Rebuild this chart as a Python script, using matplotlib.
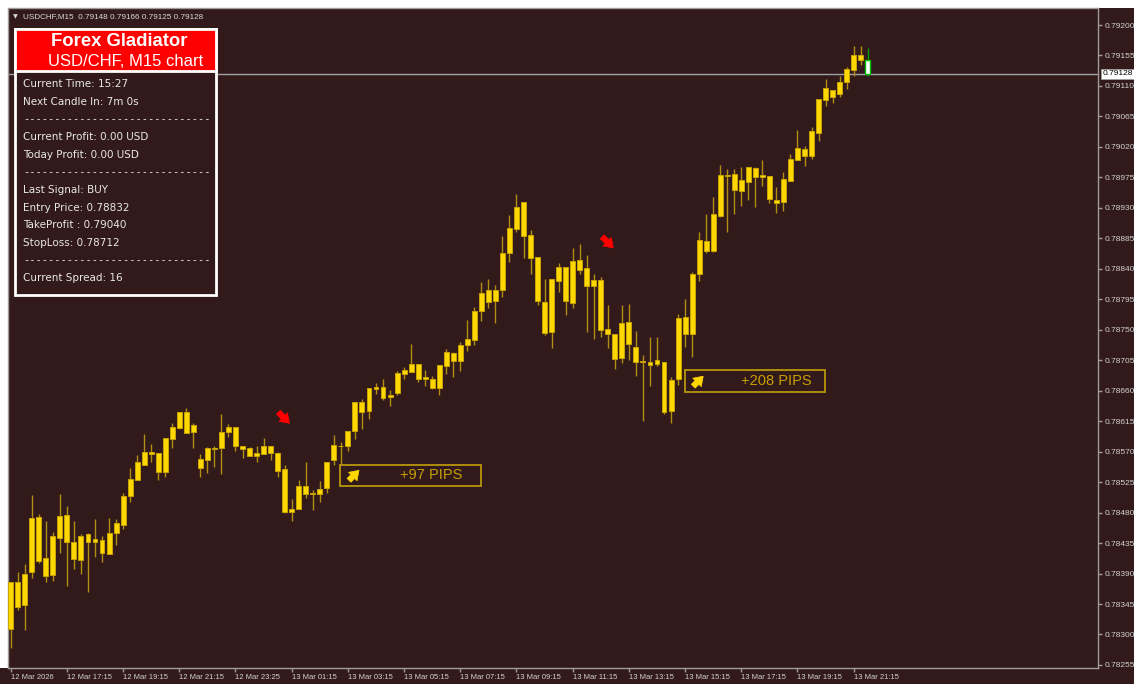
import numpy as np
import matplotlib.pyplot as plt
from matplotlib.patches import Rectangle

W, H = 1134, 684
BG = '#321a1b'
FRAME = '#a09a9a'
BODY = '#ffd700'
BODY_EDGE = '#c8a400'
WICK = '#b08f10'

# USDCHF M15 candles, prices in points (1e-5)
opens = [78308, 78377, 78343, 78393, 78474, 78413, 78388, 78443, 78477, 78437,
         78410, 78448, 78437, 78440, 78419, 78450, 78462, 78505, 78528, 78551,
         78570, 78568, 78540, 78589, 78605, 78629, 78599, 78559, 78558, 78576,
         78576, 78599, 78607, 78578, 78576, 78563, 78567, 78579, 78568, 78544,
         78481, 78486, 78520, 78507, 78507, 78516, 78558, 78579, 78579, 78601,
         78643, 78630, 78665, 78649, 78653, 78656, 78685, 78687, 78699, 78678,
         78678, 78664, 78697, 78716, 78704, 78727, 78735, 78777, 78808, 78792,
         78809, 78863, 78899, 78938, 78890, 78857, 78791, 78746, 78822, 78843,
         78789, 78853, 78841, 78815, 78823, 78751, 78743, 78709, 78761, 78724,
         78702, 78703, 78699, 78703, 78630, 78678, 78769, 78744, 78833, 78881,
         78866, 78918, 78979, 78980, 78955, 78968, 78989, 78975, 78977, 78942,
         78939, 78970, 79001, 79017, 79006, 79041, 79089, 79104, 79098, 79116,
         79134, 79155, 79148]
highs = [78378, 78393, 78404, 78506, 78478, 78467, 78452, 78507, 78490, 78468,
         78448, 78450, 78471, 78446, 78472, 78471, 78509, 78546, 78565, 78596,
         78581, 78568, 78590, 78612, 78629, 78635, 78612, 78566, 78577, 78579,
         78625, 78611, 78607, 78578, 78577, 78579, 78590, 78579, 78570, 78551,
         78500, 78528, 78555, 78514, 78527, 78555, 78594, 78584, 78600, 78644,
         78648, 78664, 78672, 78678, 78661, 78689, 78695, 78729, 78700, 78691,
         78681, 78698, 78721, 78717, 78732, 78764, 78783, 78821, 78825, 78816,
         78888, 78920, 78950, 78939, 78897, 78857, 78825, 78825, 78848, 78843,
         78870, 78877, 78861, 78832, 78828, 78786, 78743, 78786, 78788, 78748,
         78712, 78740, 78740, 78703, 78680, 78774, 78796, 78835, 78894, 78921,
         78946, 78994, 78988, 78988, 78990, 78990, 78991, 79001, 78977, 78961,
         78983, 79010, 79045, 79021, 79049, 79091, 79121, 79104, 79125, 79138,
         79169, 79169, 79166]
lows = [78280, 78336, 78307, 78383, 78406, 78377, 78379, 78420, 78372, 78397,
        78390, 78363, 78414, 78407, 78419, 78432, 78456, 78495, 78528, 78551,
        78554, 78528, 78532, 78576, 78603, 78598, 78576, 78532, 78539, 78548,
        78537, 78591, 78571, 78561, 78563, 78554, 78566, 78558, 78533, 78480,
        78468, 78485, 78502, 78484, 78496, 78509, 78551, 78551, 78571, 78589,
        78604, 78618, 78655, 78647, 78637, 78654, 78677, 78687, 78673, 78667,
        78662, 78653, 78685, 78680, 78689, 78719, 78728, 78763, 78782, 78760,
        78798, 78850, 78895, 78856, 78832, 78786, 78742, 78723, 78806, 78772,
        78782, 78832, 78747, 78737, 78740, 78723, 78692, 78701, 78705, 78682,
        78615, 78667, 78697, 78626, 78612, 78668, 78725, 78710, 78822, 78864,
        78865, 78917, 78894, 78921, 78933, 78941, 78932, 78963, 78937, 78923,
        78925, 78970, 79001, 78992, 79002, 79029, 79080, 79085, 79093, 79106,
        79124, 79141, 79125]
closes = [78377, 78341, 78390, 78472, 78409, 78387, 78446, 78475, 78436, 78411,
          78446, 78437, 78441, 78420, 78450, 78464, 78505, 78529, 78554, 78570,
          78566, 78540, 78590, 78607, 78629, 78598, 78609, 78546, 78576, 78574,
          78599, 78606, 78579, 78574, 78564, 78568, 78578, 78568, 78542, 78481,
          78486, 78520, 78507, 78509, 78515, 78555, 78580, 78578, 78600, 78643,
          78629, 78664, 78662, 78666, 78650, 78686, 78690, 78699, 78678, 78680,
          78664, 78698, 78717, 78704, 78727, 78736, 78777, 78804, 78791, 78808,
          78864, 78901, 78931, 78889, 78856, 78792, 78745, 78825, 78843, 78792,
          78852, 78838, 78815, 78823, 78750, 78744, 78707, 78760, 78729, 78702,
          78704, 78698, 78705, 78628, 78676, 78768, 78744, 78833, 78883, 78866,
          78921, 78979, 78977, 78956, 78971, 78990, 78975, 78979, 78943, 78937,
          78973, 79002, 79018, 79006, 79043, 79091, 79107, 79094, 79116, 79135,
          79155, 79149, 79128]

time_ticks = list(range(0, 121, 8))
time_labels = ['12 Mar 2026', '12 Mar 17:15', '12 Mar 19:15', '12 Mar 21:15',
               '12 Mar 23:25', '13 Mar 01:15', '13 Mar 03:15', '13 Mar 05:15',
               '13 Mar 07:15', '13 Mar 09:15', '13 Mar 11:15', '13 Mar 13:15',
               '13 Mar 15:15', '13 Mar 17:15', '13 Mar 19:15', '13 Mar 21:15']
price_ticks = [78255 + 45 * k for k in range(22)]

# signals
sell_idx = [38.9, 85.0]
sell_price = [78620, 78879]
buy_idx = [47, 96]
buy_top = [78551, 78690]
buy_pips = [97, 208]

panel_lines = ['Current Time: 15:27', 'Next Candle In: 7m 0s', None,
               'Current Profit: 0.00 USD', 'Today Profit: 0.00 USD', None,
               'Last Signal: BUY', 'Entry Price: 0.78832', 'TakeProfit : 0.79040',
               'StopLoss: 0.78712', None, 'Current Spread: 16']

o = np.array(opens) / 1e5
h = np.array(highs) / 1e5
l = np.array(lows) / 1e5
c = np.array(closes) / 1e5
x = np.arange(len(o))


def fpx(px, py):
    return px / W, 1 - py / H


def fat_arrow(ax, xc, yc, dx, dy, color):
    # thick wingdings-like arrow, tip at (xc, yc), tail offset (-dx, -dy) points
    ax.annotate('', xy=(xc, yc), xycoords='data',
                xytext=(-dx, -dy), textcoords='offset points', zorder=5,
                arrowprops=dict(arrowstyle='simple,head_width=0.75,head_length=0.55,tail_width=0.34',
                                fc=color, ec=color, lw=0.5, shrinkA=0, shrinkB=0,
                                mutation_scale=11.5))


fig = plt.figure(figsize=(W / 100, H / 100), dpi=100, facecolor=BG)
ax = fig.add_axes([8.3 / W, (H - 668) / H, 1090 / W, (668 - 8.3) / H])
ax.set_facecolor(BG)

# white window border top / left
fig.add_artist(Rectangle((0, 1 - 8 / H), 1, 8 / H, transform=fig.transFigure,
                         fc='white', ec='none', zorder=-1))
fig.add_artist(Rectangle((0, (H - 668) / H), 7.5 / W, 668 / H,
                         transform=fig.transFigure, fc='white', ec='none', zorder=-1))

# candles
lo_b = np.minimum(o, c)
hi_b = np.maximum(o, c)
ax.vlines(x[:-1], l[:-1], h[:-1], color=WICK, lw=1, zorder=2)
ax.bar(x[:-1], hi_b[:-1] - lo_b[:-1], bottom=lo_b[:-1], width=0.7,
       color=BODY, edgecolor=BODY_EDGE, lw=0.7, zorder=3)
ax.vlines(x[-1], l[-1], h[-1], color='#00a000', lw=1, zorder=2)
ax.bar(x[-1], hi_b[-1] - lo_b[-1], bottom=lo_b[-1], width=0.7,
       color='white', edgecolor='#00c000', lw=1, zorder=3)

# current price line
ax.axhline(c[-1], color='#a0a0a8', lw=1, zorder=1)

# sell arrows (tip at the lower right of the marker)
px_x = 1 / 7.025          # one pixel in bar units
px_y = 1.4766e-5          # one pixel in price units
for i, p in zip(sell_idx, np.array(sell_price) / 1e5):
    fat_arrow(ax, i + 5.5 * px_x, p - 5.5 * px_y, 8, -8, '#ff0000')

# buy result boxes
bh = 0.00032
for i, top, pips in zip(buy_idx, np.array(buy_top) / 1e5, buy_pips):
    left = i - 0.08
    mid = top - bh / 2
    ax.add_patch(Rectangle((left, top - bh), 20, bh, fill=False,
                           ec='#b8960a', lw=1.3, zorder=4))
    fat_arrow(ax, left + 1.95 + 5 * px_x, mid + 5 * px_y, 7.2, 7.2, '#ffd700')
    ax.text(left + 13, mid, f'+{pips} PIPS', color='#c8a000',
            fontsize=10.5, ha='center', va='center', family='Liberation Sans', zorder=5)

# axes
ax.set_xlim(-0.342, 154.82)
ax.set_ylim(0.782505, 0.792247)
for s in ax.spines.values():
    s.set_color(FRAME)
    s.set_linewidth(1)

ax.yaxis.tick_right()
ax.set_yticks(np.array(price_ticks) / 1e5)
ax.set_yticklabels([f'{p / 1e5:.5f}' for p in price_ticks])
ax.tick_params(axis='y', direction='out', length=3, width=1, color=FRAME,
               pad=1.5, labelsize=6, labelcolor='#d2d2d2')
ax.set_xticks(time_ticks)
ax.set_xticklabels(time_labels)
ax.tick_params(axis='x', direction='out', length=3, width=1, color=FRAME,
               pad=1, labelsize=5.5, labelcolor='#d2d2d2')
for t in ax.get_xticklabels():
    t.set_horizontalalignment('left')
    t.set_family('Liberation Sans')
for t in ax.get_yticklabels():
    t.set_family('Liberation Sans')

# current price tag
ax.annotate(f'{c[-1]:.5f}', xy=(1, c[-1]), xycoords=('axes fraction', 'data'),
            xytext=(3, 0), textcoords='offset points', ha='left', va='center',
            fontsize=6, color='black', family='Liberation Sans',
            bbox=dict(boxstyle='square,pad=0.15', fc='white', ec='#a0a0a0', lw=0.6),
            annotation_clip=False, zorder=6)

# header
fig.text(*fpx(13, 16.5), '\u25bc', fontsize=4.5, color='#d8d8d8', va='center',
         family='DejaVu Sans')
fig.text(*fpx(22.7, 17), f'USDCHF,M15  {o[-1]:.5f} {h[-1]:.5f} {l[-1]:.5f} {c[-1]:.5f}',
         fontsize=5.9, color='#d8d8d8', va='center', family='Liberation Sans')

# info panel
x0, x1, y0, y1, yh = 15, 215.5, 29, 294.5, 70.5
fig.add_artist(Rectangle(fpx(x0, y1), (x1 - x0) / W, (y1 - y0) / H,
                         transform=fig.transFigure, fc=BG, ec='white', lw=2, zorder=5))
fig.add_artist(Rectangle(fpx(x0, yh), (x1 - x0) / W, (yh - y0) / H,
                         transform=fig.transFigure, fc='#ff0000', ec='white', lw=2, zorder=6))
fig.text(*fpx(119, 41), 'Forex Gladiator', fontsize=13.3, fontweight='bold',
         color='white', ha='center', va='center', family='Liberation Sans', zorder=7)
fig.text(*fpx(125.5, 61), 'USD/CHF, M15 chart', fontsize=12, color='white',
         ha='center', va='center', family='Liberation Sans', zorder=7)
for k, line in enumerate(panel_lines):
    yb = 87.3 + 17.61 * k
    if line is None:
        fig.text(*fpx(23, yb), '-' * 30, fontsize=7.5, color='#e8e8e8',
                 va='baseline', family='DejaVu Sans Mono', zorder=7)
    else:
        fig.text(*fpx(23, yb), line, fontsize=7.5, color='#e8e8e8',
                 va='baseline', family='DejaVu Sans', zorder=7)

fig.savefig('out.png', dpi=100, facecolor=BG)
